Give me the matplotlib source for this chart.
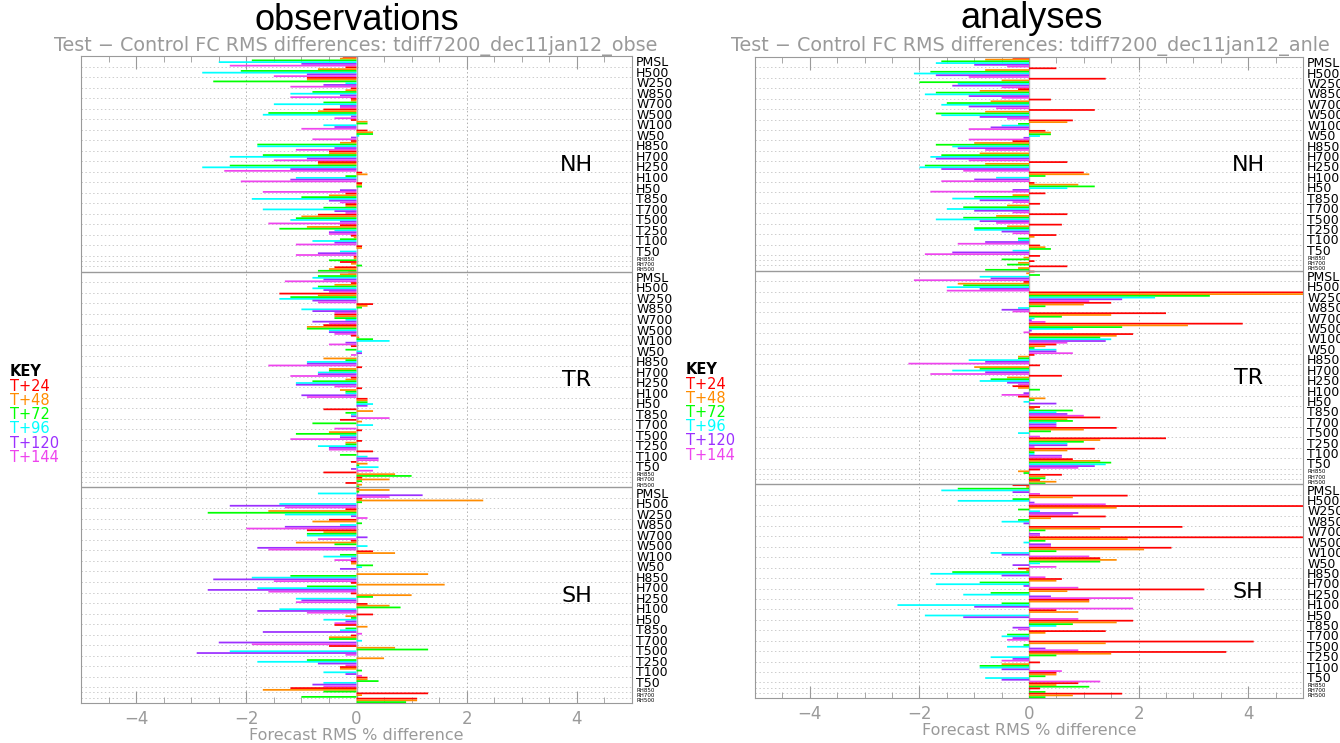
import matplotlib.pyplot as plt
from matplotlib.ticker import MultipleLocator

variables = ["PMSL", "H500", "W250", "W850", "W700", "W500", "W100", "W50",
             "H850", "H700", "H250", "H100", "H50",
             "T850", "T700", "T500", "T250", "T100", "T50"]
rh_variables = ["RH850", "RH700", "RH500"]
leads = ["T+24", "T+48", "T+72", "T+96", "T+120", "T+144"]
lead_colors = ["#ff0000", "#ff8c00", "#00ff00", "#00ffff", "#9b30ff", "#ee44ee"]
regions = ["NH", "TR", "SH"]

# rows follow variables + rh_variables, values for each lead time (RH: 3 leads)
obs_nh = [
    [-0.25, -0.3, -1.9, -2.5, -1.0, -2.3],
    [-0.2, -0.7, -2.1, -2.8, -0.9, -1.5],
    [-0.9, -0.9, -2.6, -0.2, -0.6, -1.2],
    [-0.1, -0.2, -0.8, -1.2, -0.3, -1.2],
    [-0.1, -0.1, -0.6, -1.5, -0.3, -0.3],
    [-0.6, -0.7, -1.6, -1.7, -0.1, -0.4],
    [-0.1, 0.2, 0.2, -0.6, -0.4, -1.0],
    [0.2, 0.3, 0.3, 0.05, -0.1, -0.8],
    [-0.1, -0.3, -1.8, -1.8, -0.4, -1.1],
    [-0.5, -0.5, -1.7, -2.3, -0.9, -1.5],
    [-0.7, -0.7, -2.3, -2.8, -1.2, -2.4],
    [0.1, 0.2, -0.2, -1.1, -1.2, -2.1],
    [0.1, 0.1, 0.1, 0.0, -0.3, -1.7],
    [-0.2, -0.5, -1.0, -1.9, -0.5, -0.3],
    [-0.2, -0.2, -0.6, -1.7, -0.4, -0.2],
    [-0.7, -1.0, -1.1, -1.2, -0.3, -1.6],
    [-0.3, -0.9, -1.4, -0.4, -0.5, -0.5],
    [-0.1, -0.05, -0.3, -0.8, -0.4, -1.1],
    [0.1, 0.1, 0.0, -0.3, -0.7, -1.1],
    [-0.05, -0.05, -0.5],
    [-0.3, -0.1, 0.1],
    [-0.4, -0.5, -0.7],
]
obs_tr = [
    [-0.15, -0.3, -0.7, -0.8, -0.6, -1.3],
    [-0.1, -0.4, -0.7, -0.8, -0.6, -0.5],
    [-1.4, -0.7, -1.2, -1.4, -0.8, -0.7],
    [0.3, 0.2, 0.1, -1.0, -0.8, -0.4],
    [-0.4, -0.4, -0.4, -0.2, -0.8, -0.5],
    [-0.6, -0.9, -0.9, -0.5, -0.5, -0.4],
    [-0.1, 0.05, 0.3, 0.6, -0.2, -0.5],
    [-0.1, 0.0, -0.2, 0.1, 0.1, -0.1],
    [0.0, -0.6, -0.2, -0.9, -0.9, -1.6],
    [0.1, -0.5, -0.5, -0.7, -0.7, -1.2],
    [-0.1, -0.2, -0.8, -1.1, -1.1, -0.4],
    [0.1, -0.3, -0.2, -0.2, -1.0, -0.9],
    [0.2, 0.2, 0.2, 0.3, 0.2, 0.0],
    [-0.6, 0.3, -0.2, -0.1, -0.1, 0.6],
    [-0.3, 0.1, -0.8, 0.3, 0.0, -0.4],
    [0.1, -0.5, -1.1, -0.3, -0.3, -1.2],
    [0.1, -0.2, -0.2, -0.7, -0.5, -0.5],
    [0.3, 0.0, -0.3, 0.2, 0.4, 0.4],
    [-0.1, 0.2, 0.05, 0.4, -0.1, 0.3],
    [-0.6, 0.7, 1.0],
    [0.1, 0.6, 0.1],
    [-0.2, 0.1, 0.05],
]
obs_sh = [
    [0.05, 0.6, 0.05, -0.7, 1.2, 0.6],
    [0.1, 2.3, 0.1, -1.4, -2.3, -1.3],
    [-0.2, -1.6, -2.7, -1.3, -0.1, 0.2],
    [-0.5, -0.8, 0.1, -0.3, -1.3, -2.0],
    [-0.9, -0.6, -0.9, -0.9, 0.2, -0.7],
    [-0.1, -1.1, -0.4, 0.2, -1.8, -1.6],
    [0.3, 0.7, -0.3, -0.6, -0.1, -0.4],
    [-0.1, -0.1, 0.3, 0.1, -0.3, 0.0],
    [0.0, 1.3, -1.2, -1.9, -2.6, -1.5],
    [-0.1, 1.6, -0.9, -1.8, -2.7, -1.6],
    [-0.1, 1.0, 0.3, -1.1, -1.0, -1.1],
    [0.2, 0.6, 0.8, -1.4, -1.8, -0.9],
    [0.3, -0.2, -0.1, -0.6, -0.2, -0.4],
    [-0.4, 0.2, -0.2, -0.3, -1.7, 0.1],
    [-0.1, -0.5, -0.5, 0.1, -2.5, -1.9],
    [-0.5, 0.7, 1.3, -2.3, -2.9, -0.2],
    [0.0, 0.5, -0.9, -1.8, -0.7, -0.2],
    [-0.3, -0.3, 0.1, -0.6, -0.2, 0.1],
    [0.2, 0.2, 0.4, -0.6, -0.8, -0.6],
    [-1.2, -1.7, -0.6],
    [1.3, 0.1, -1.0],
    [1.1, 1.1, 0.9],
]
anl_nh = [
    [-0.3, -0.8, -1.6, -1.7, -1.0, -0.4],
    [0.5, -0.8, -1.8, -2.1, -1.7, -1.1],
    [1.4, -0.5, -2.0, -1.3, -1.4, -0.5],
    [-0.2, -0.9, -1.7, -1.9, -1.1, -0.5],
    [0.4, -0.7, -1.5, -1.6, -1.1, -0.6],
    [1.2, -0.8, -1.7, -1.6, -0.9, -0.4],
    [0.8, 0.7, -0.2, -0.5, -0.7, -1.1],
    [0.3, 0.4, 0.4, 0.2, -0.1, -1.1],
    [-0.3, -1.0, -1.7, -1.4, -1.3, -0.8],
    [0.0, -0.9, -1.6, -1.8, -1.7, -1.1],
    [0.7, -0.8, -1.9, -2.0, -1.6, -1.2],
    [1.0, 1.1, 0.3, -0.6, -1.0, -1.6],
    [0.1, 0.9, 1.2, 0.7, -0.3, -1.8],
    [0.3, -0.3, -1.0, -1.4, -0.9, -0.3],
    [0.2, -0.4, -1.2, -1.5, -1.0, -0.3],
    [0.7, -0.6, -1.2, -1.7, -0.9, -0.6],
    [0.6, -0.4, -1.0, -1.0, -0.5, -0.3],
    [0.5, 0.1, -0.2, -0.2, -0.8, -1.3],
    [0.2, 0.3, 0.4, -0.3, -1.4, -1.9],
    [0.2, -0.1, -0.5],
    [0.1, -0.2, -0.4],
    [0.7, -0.2, -0.8],
]
anl_tr = [
    [0.1, -0.05, 0.2, -0.9, -0.7, -2.1],
    [-0.1, -1.3, -1.2, -1.5, -0.9, -1.5],
    [5.5, 5.5, 3.3, 2.3, 1.7, 1.1],
    [1.5, 1.0, 0.3, -0.2, -0.5, -0.3],
    [2.5, 1.5, 0.6, 0.1, 0.05, 0.3],
    [3.9, 2.9, 1.7, 0.8, 0.05, -0.1],
    [1.9, 1.6, 1.3, 1.5, 1.4, 0.7],
    [0.5, 0.3, 0.1, 0.5, 0.5, 0.8],
    [0.1, -0.2, -0.2, -1.1, -0.8, -2.2],
    [0.2, -1.0, -0.9, -1.4, -0.8, -1.8],
    [0.6, -0.4, -0.7, -0.9, -0.4, -0.2],
    [-0.3, -0.2, 0.2, 0.0, -0.1, -0.5],
    [-0.2, 0.3, 0.1, -0.1, 0.5, 0.0],
    [0.2, 0.1, 0.8, 0.5, 0.7, 1.0],
    [1.3, 0.7, 0.8, 0.5, 0.5, 0.5],
    [1.6, 1.0, 0.4, -0.2, 0.0, 0.2],
    [2.5, 1.3, 1.0, 0.7, 0.7, 0.1],
    [1.2, 0.7, 0.1, 0.1, 0.6, 0.6],
    [0.8, 1.3, 1.5, 1.4, 1.2, 0.9],
    [0.2, -0.2, -0.1],
    [0.6, 0.3, 0.3],
    [0.2, 0.5, 0.3],
]
anl_sh = [
    [-0.3, -0.05, -1.3, -1.6, -0.3, 0.2],
    [1.8, 0.8, -0.3, -1.3, 0.1, 1.4],
    [5.5, 1.6, -0.2, 0.2, 0.9, 0.8],
    [1.4, 0.4, -0.2, -0.5, -0.1, 0.0],
    [2.8, 1.3, 0.3, 0.0, 0.2, 0.2],
    [5.5, 1.8, 0.3, -0.1, 0.4, 0.4],
    [2.6, 2.1, 0.5, -0.7, -0.5, 1.1],
    [1.3, 1.6, 1.3, 0.2, -0.3, 0.5],
    [-0.2, -0.05, -1.4, -1.8, -0.5, 0.3],
    [0.6, 0.5, -0.9, -1.7, -0.1, 0.9],
    [3.2, 0.7, -0.7, -1.2, 0.4, 1.9],
    [1.1, 1.1, -0.5, -2.4, -1.0, 1.9],
    [0.5, 0.9, 0.0, -1.9, -1.2, 0.9],
    [1.9, 1.6, 0.8, 0.5, -0.3, -0.2],
    [1.4, 0.3, -0.4, -0.5, -0.3, -0.4],
    [4.1, 1.4, -0.1, -0.4, 0.3, 0.9],
    [3.6, 1.5, 0.5, -0.7, -0.3, -0.5],
    [0.2, -0.5, -0.9, -0.9, -0.5, 0.6],
    [0.5, 0.5, 0.3, -0.8, -0.5, 1.3],
    [0.9, 0.5, 1.1],
    [0.2, 0.0, 0.3],
    [1.7, 0.8, 0.3],
]

GREY = "#9a9a9a"
SLOTS = 6 * len(variables) + 3 * len(rh_variables)


def draw_panel(ax, sections):
    ticks, labels = [], []
    for s, (region, rows) in enumerate(zip(regions, sections)):
        base = s * SLOTS
        y = base
        for name, vals in zip(variables + rh_variables, rows):
            n = len(vals)
            bars = ax.barh([y + j + 0.5 for j in range(n)], vals, height=1.0,
                           color=lead_colors[:n], linewidth=0, zorder=2)
            for b in bars:
                b.set_snap(False)
            if y > base:
                ax.axhline(y, color="#cccccc", ls=(0, (1.5, 2.5)), lw=0.7, zorder=0)
            ticks.append(y + n / 2)
            labels.append(name)
            y += n
        if s > 0:
            ax.axhline(base, color=GREY, lw=1.0, zorder=3)
        ax.text(4.0, base + 62, region, fontsize=16, ha="center", va="center")

    ax.set_xlim(-5, 5)
    ax.set_ylim(3 * SLOTS, 0)
    ax.axvline(0, color="#b0b0b0", lw=1.0, zorder=1)
    for xv in (-2, 2):
        ax.axvline(xv, color="#b0b0b0", ls=(0, (1.5, 2.5)), lw=0.7, zorder=0)

    ax.yaxis.tick_right()
    ax.set_yticks(ticks, labels)
    ax.tick_params(axis="y", length=0, pad=3, labelsize=9)
    for lab in ax.get_yticklabels():
        if lab.get_text().startswith("RH"):
            lab.set_fontsize(4)

    ax.xaxis.set_major_locator(MultipleLocator(2))
    ax.xaxis.set_minor_locator(MultipleLocator(0.5))
    ax.tick_params(axis="x", which="both", direction="in", top=True, bottom=True,
                   color=GREY, labelcolor=GREY, labelsize=12, pad=5)
    ax.tick_params(axis="x", which="major", length=9)
    ax.tick_params(axis="x", which="minor", length=4)
    ax.set_xlabel("Forecast RMS % difference", color=GREY, fontsize=11.5, labelpad=0)
    for sp in ax.spines.values():
        sp.set_color(GREY)


fig = plt.figure(figsize=(13.4, 7.43), dpi=100)
W, H = 1340, 743

ax1 = fig.add_axes([81 / W, 1 - 703 / H, 551 / W, 647 / H])
draw_panel(ax1, [obs_nh, obs_tr, obs_sh])
ax2 = fig.add_axes([755 / W, 1 - 698 / H, 548 / W, 641 / H])
draw_panel(ax2, [anl_nh, anl_tr, anl_sh])

fig.text(357 / W, 1 - 20 / H, "observations", fontsize=26, family="Liberation Sans",
         ha="center", va="center")
fig.text(1032 / W, 1 - 18 / H, "analyses", fontsize=26, family="Liberation Sans",
         ha="center", va="center")
fig.text(356 / W, 1 - 46 / H, "Test \u2212 Control FC RMS differences: tdiff7200_dec11jan12_obse",
         fontsize=13.8, color=GREY, ha="center", va="center")
fig.text(1030 / W, 1 - 46 / H, "Test \u2212 Control FC RMS differences: tdiff7200_dec11jan12_anle",
         fontsize=13.8, color=GREY, ha="center", va="center")

for kx, ky in ((10, 372), (686, 370)):
    fig.text(kx / W, 1 - ky / H, "KEY", fontsize=10.5, fontweight="bold", va="center")
    for i, (lead, col) in enumerate(zip(leads, lead_colors)):
        fig.text(kx / W, 1 - (ky + 14.2 * (i + 1)) / H, lead, fontsize=10.5,
                 color=col, va="center")

fig.savefig("out.png", dpi=100)
